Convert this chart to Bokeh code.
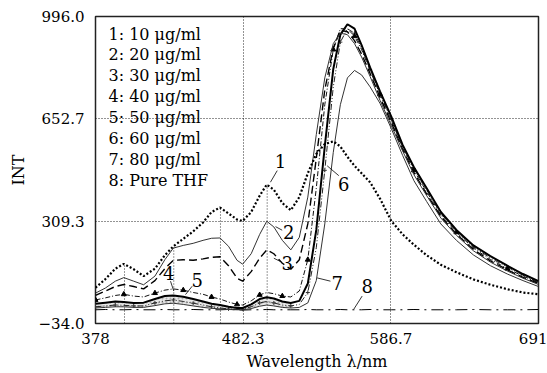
from bokeh.plotting import figure
from bokeh.models import Range1d, Label
from bokeh.embed import file_html
from bokeh.resources import INLINE

# ---------------- data ----------------
wl = [378, 385, 392, 398, 405, 412, 420, 427, 433, 440, 447, 454, 460, 466, 472, 478,
      482, 488, 494, 499, 504, 510, 516, 522, 528, 534, 540, 546, 551, 556, 561, 566,
      572, 579, 587, 595, 603, 612, 622, 633, 645, 657, 669, 680, 691]

c1 = [86, 115, 150, 166, 148, 125, 150, 195, 225, 250, 275, 305, 340, 355, 335, 315,
      310, 340, 395, 432, 415, 370, 346, 390, 470, 535, 568, 577, 560, 525, 495, 470,
      440, 385, 310, 265, 230, 195, 163, 138, 114, 96, 81, 70, 64]
c2 = [68, 85, 108, 120, 108, 96, 125, 180, 219, 228, 235, 245, 252, 253, 225, 178,
      165, 200, 265, 309, 290, 245, 213, 255, 390, 600, 790, 905, 940, 935, 905, 860,
      795, 715, 630, 545, 465, 395, 320, 262, 210, 172, 142, 118, 97]
c3 = [60, 75, 90, 97, 90, 82, 110, 150, 178, 180, 178, 183, 188, 190, 160, 118,
      108, 140, 185, 213, 200, 168, 148, 180, 300, 520, 750, 890, 950, 945, 915, 870,
      805, 725, 640, 550, 472, 400, 325, 266, 214, 176, 146, 121, 100]
c4 = [45, 52, 60, 64, 58, 55, 68, 78, 82, 78, 70, 64, 55, 48, 38, 30,
      28, 42, 62, 70, 66, 58, 55, 75, 180, 420, 700, 885, 955, 955, 930, 885,
      815, 735, 648, 557, 480, 408, 330, 272, 219, 181, 150, 125, 103]
c5 = [32, 36, 40, 38, 35, 36, 48, 58, 60, 56, 48, 40, 32, 28, 22, 18,
      18, 30, 48, 54, 50, 40, 35, 42, 100, 280, 560, 820, 935, 970, 955, 900,
      825, 745, 660, 565, 490, 420, 340, 280, 228, 192, 160, 132, 108]
c6 = [22, 25, 28, 27, 25, 25, 35, 42, 45, 40, 34, 28, 22, 18, 15, 13,
      14, 22, 35, 40, 35, 28, 25, 30, 70, 220, 480, 760, 910, 955, 940, 890,
      818, 740, 652, 560, 485, 414, 335, 276, 223, 186, 155, 128, 105]
c7 = [18, 20, 22, 22, 20, 20, 26, 32, 34, 30, 25, 20, 17, 15, 13, 12,
      12, 16, 24, 28, 25, 20, 18, 20, 35, 110, 300, 540, 700, 790, 815, 800,
      760, 705, 620, 530, 445, 375, 300, 245, 196, 160, 132, 110, 90]
c8 = [12, 13, 12, 12, 13, 12, 12, 13, 12, 12, 13, 12, 12, 12, 13, 12,
      11, 12, 12, 13, 12, 12, 12, 12, 13, 12, 12, 12, 13, 12, 12, 12,
      13, 12, 12, 12, 13, 12, 12, 12, 13, 12, 12, 12, 13]

legend_labels = ["1: 10 \u03bcg/ml", "2: 20 \u03bcg/ml", "3: 30 \u03bcg/ml",
                 "4: 40 \u03bcg/ml", "5: 50 \u03bcg/ml", "6: 60 \u03bcg/ml",
                 "7: 80 \u03bcg/ml", "8: Pure THF"]

x_ticks = [378, 482.3, 586.7, 691]
x_tick_labels = ["378", "482.3", "586.7", "691"]
y_ticks = [-34.0, 309.3, 652.7, 996.0]
y_tick_labels = ["\u221234.0", "309.3", "652.7", "996.0"]

# vertical marker lines at the curve-1 band maxima
peak_nm = [398.5, 433.3, 466.3, 499.3]
peak_top = [166, 225, 355, 432]

# curve call-outs
callout_text = ["1", "2", "3", "4", "5", "6", "7", "8"]
callout_x = [508.7, 514.6, 513.4, 429.8, 449.9, 553.4, 548.8, 570.0]
callout_y = [512, 274, 169, 136, 113, 435, 102, 91]
leader_x0 = [506.4, 509.9, 508.7, 431.0, 446.3, 549.9, 544.0, 566.4]
leader_y0 = [479, 279, 174, 108, 91, 462, 108, 58]
leader_x1 = [501.6, 505.2, 504.0, 433.3, 441.6, 541.7, 534.6, 560.5]
leader_y1 = [440, 291, 185, 75, 63, 495, 119, 14]

SERIF = "DejaVu Serif"

p = figure(width=547, height=373, output_backend="svg", toolbar_location=None,
           x_range=Range1d(378, 691), y_range=Range1d(-34, 996),
           min_border_left=95, min_border_right=9, min_border_top=16, min_border_bottom=47)
p.background_fill_color = "white"
p.border_fill_color = "white"
p.outline_line_color = "#222222"
p.outline_line_width = 1.5

for ax in (p.xaxis, p.yaxis):
    ax.major_tick_line_color = None
    ax.minor_tick_line_color = None
    ax.axis_line_color = None
    ax.major_label_text_font = SERIF
    ax.major_label_text_font_size = "15px"
    ax.major_label_text_color = "black"
    ax.axis_label_text_font = SERIF
    ax.axis_label_text_font_size = "16px"
    ax.axis_label_text_font_style = "normal"
    ax.axis_label_text_color = "black"

p.xaxis.major_label_standoff = 3
p.yaxis.major_label_standoff = 5
p.xaxis.ticker = x_ticks
p.yaxis.ticker = y_ticks
p.xaxis.major_label_overrides = {t: s for t, s in zip(x_ticks, x_tick_labels)}
p.yaxis.major_label_overrides = {t: s for t, s in zip(y_ticks, y_tick_labels)}
p.xaxis.axis_label = "Wavelength \u03bb/nm"
p.yaxis.axis_label = "INT"
p.xaxis.axis_label_standoff = 5
p.yaxis.axis_label_standoff = 8

for g in (p.xgrid, p.ygrid):
    g.grid_line_color = "black"
    g.grid_line_dash = "1 2"
    g.grid_line_width = 1
    g.grid_line_alpha = 0.85

# stippled band between the weakest curves in the short-wavelength region
n_low = 23
p.varea(x=wl[:n_low], y1=c7[:n_low], y2=c5[:n_low], fill_color="#d8d8d8",
        fill_alpha=0.6, hatch_pattern="dot", hatch_color="#888888", hatch_scale=4,
        hatch_alpha=0.6)

# peak marker lines
p.segment(x0=peak_nm, y0=[-34] * len(peak_nm), x1=peak_nm, y1=peak_top,
          line_color="black", line_dash="1 2", line_width=1, line_alpha=0.8)

# curves
p.line(wl, c8, line_color="black", line_width=1, line_dash="12 5 2 5")
p.line(wl, c7, line_color="#333333", line_width=1)
p.line(wl, c6, line_color="#222222", line_width=1, line_dash="6 2 1 2 1 2")
p.scatter(wl[::2], c6[::2], marker="cross", size=4, line_color="#333333")
p.line(wl, c5, line_color="black", line_width=2)
p.line(wl, c4, line_color="#111111", line_width=1, line_dash="5 2 1 2")
p.scatter(wl[::3], c4[::3], marker="triangle", size=5, fill_color="black", line_color="black")
p.line(wl, c3, line_color="black", line_width=1.4, line_dash="8 4")
p.line(wl, c2, line_color="#333333", line_width=1)
p.line(wl, c1, line_color="black", line_width=2.2, line_dash="2 2")

# call-outs
p.segment(x0=leader_x0, y0=leader_y0, x1=leader_x1, y1=leader_y1,
          line_color="black", line_width=0.8)
for t, x, y in zip(callout_text, callout_x, callout_y):
    p.add_layout(Label(x=x, y=y, text=t, text_font=SERIF, text_font_size="18px",
                       text_align="center", text_baseline="middle", text_color="black"))

# legend text block (text only, no samples)
legend_x = 387.2
legend_top = 937
legend_step = 70
for i, t in enumerate(legend_labels):
    p.add_layout(Label(x=legend_x, y=legend_top - legend_step * i,
                       text=t, text_font=SERIF, text_font_size="16px",
                       text_baseline="middle", text_color="black"))

open("out.html", "w").write(file_html(p, INLINE))
